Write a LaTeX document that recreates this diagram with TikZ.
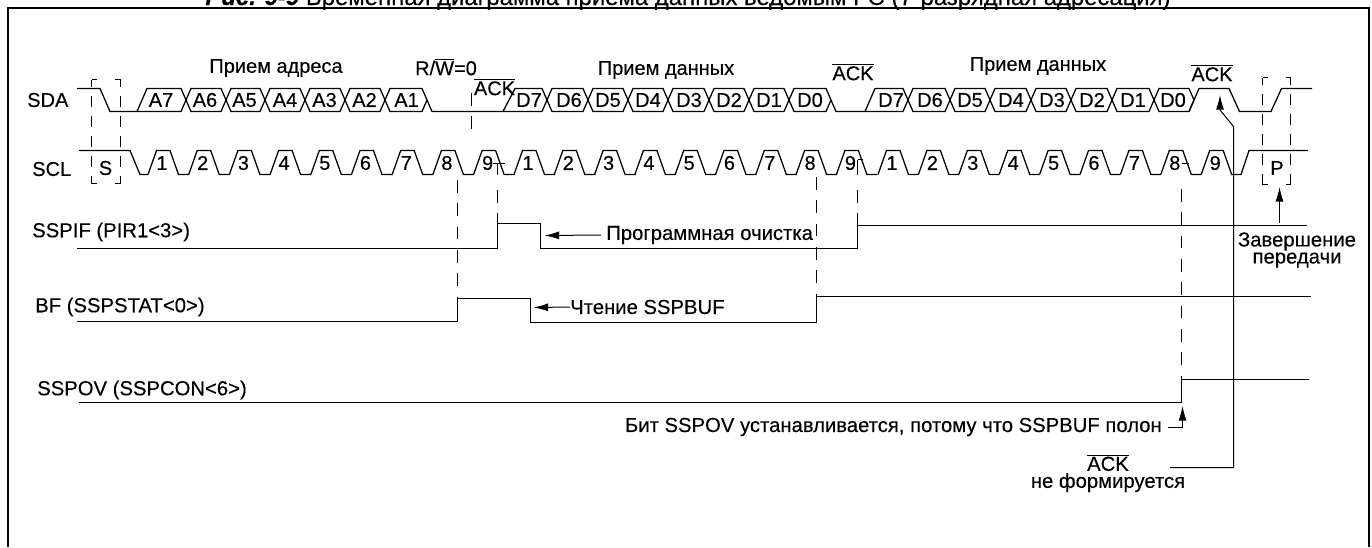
\documentclass[tikz,border=0pt]{standalone}
\usepackage{fontspec}
\setmainfont[FakeBold=0.25]{Liberation Sans}
\usetikzlibrary{arrows.meta}
\newcommand{\ovl}[1]{$\overline{\mbox{#1}}$}
\newcommand{\cutbox}[4]{
	\draw[cuth] (#1,#3) -- (#2,#3);
	\draw[cuth] (#1,#4) -- (#2,#4);
	\draw[cutv] (#1,#3) -- (#1,#4);
	\draw[cutv] (#2,#3) -- (#2,#4);
}
\tikzset{
	frame/.style={line width=1.8pt},
	sig/.style={line width=0.95pt, line join=miter},
	guide/.style={line width=0.75pt, dash pattern=on 9.5pt off 8pt},
	cuth/.style={line width=0.75pt, dash pattern=on 4pt off 13.75pt},
	cutv/.style={line width=0.75pt, dash pattern=on 8.25pt off 6.75pt, dash phase=2.5pt},
	flow/.style={-{Latex[length=11pt,width=6pt]}, line width=0.75pt},
	lab/.style={inner sep=0pt, font=\fontsize{15}{17}\selectfont},
	sname/.style={inner sep=0pt, anchor=west, font=\fontsize{15}{17}\selectfont},
	tname/.style={inner sep=0pt, anchor=west, font=\fontsize{15.2}{17}\selectfont},
	note/.style={inner sep=0pt, align=center, font=\fontsize{15.2}{12.75}\selectfont},
	bit/.style={inner sep=0pt, font=\fontsize{15}{16}\selectfont},
	num/.style={inner sep=0pt, font=\fontsize{15}{16}\selectfont}
}
\begin{document}
\begin{tikzpicture}[x=0.75pt, y=-0.75pt]
	\useasboundingbox (0,0) rectangle (1372,547);
	\node[inner sep=0pt, anchor=base, font=\fontsize{17.9}{20}\selectfont] (title) at (688,5) {\textbf{\textit{Рис. 9-9}} Временная диаграмма приема данных ведомым I²C (7-разрядная адресация)};
	\draw[frame] (8,547) -- (8,8) -- (1369,8) -- (1369,547);
	% SDA
	\node[sname] (sda) at (27,100) {SDA};
	\draw[sig] (77,88.5) -- (100,88.5) -- (110,111.5) -- (137,111.5) -- (147,88.5) -- (181,88.5) -- (186,100) -- (181,111.5) -- (137,111.5);
	\foreach \a/\b in {186/226,226/265,265/305,305/345,345/385,385/427,547/588,588/628,628/668,668/709,709/749,749/789,789/831,908/950,950/990,990/1031,1031/1071,1071/1112,1112/1154,1154/1194}
		\draw[sig] (\a,100) -- (\a+5,88.5) -- (\b-5,88.5) -- (\b,100) -- (\b-5,111.5) -- (\a+5,111.5) -- cycle;
	\draw[sig] (427,100) -- (432,111.5) -- (503,111.5) -- (515,88.5) -- (542,88.5) -- (547,100) -- (542,111.5) -- (503,111.5);
	\draw[sig] (831,100) -- (836,111.5) -- (865,111.5) -- (875,88.5) -- (903,88.5) -- (908,100) -- (903,111.5) -- (865,111.5);
	\draw[sig] (1189,111.5) -- (1199,88.5) -- (1229,88.5) -- (1239.5,111.5) -- (1271,111.5) -- (1281.5,88.5) -- (1312,88.5);
	\foreach \x/\t in {161/A7,205/A6,244.5/A5,285/A4,324.5/A3,364.5/A2,406.5/A1,529/D7,569/D6,608/D5,648/D4,689/D3,729/D2,769/D1,810/D0,891/D7,930/D6,970/D5,1011/D4,1052/D3,1092/D2,1133/D1,1173/D0}
		\node[bit] (b\t\x) at (\x,100) {\t};
	% SCL
	\node[sname] (scl) at (32,169) {SCL};
	\draw[sig] (79,150.5) -- (130,150.5) -- (140,174.5) -- (148,174.5);
	\foreach \r [count=\n] in {148,188.7,229.4,270.1,310.8,351.5,392.2,432.9,473.6}{
		\draw[sig] (\r,174.5) -- (\r+8.5,150.5) -- (\r+22,150.5) -- (\r+30.5,174.5) -- (\r+41,174.5);
		\node[num] (clka\n) at (\r+14,163) {\n};
	}
	\foreach \r [count=\n] in {514,554.3,594.6,634.9,675.2,715.5,755.8,796.1,836.4}{
		\draw[sig] (\r,174.5) -- (\r+8.5,150.5) -- (\r+22,150.5) -- (\r+30.5,174.5) -- (\r+41,174.5);
		\node[num] (clkb\n) at (\r+14,163) {\n};
	}
	\foreach \r [count=\n] in {878,918.4,958.8,999.2,1039.6,1080,1120.4,1160.8,1201.2}{
		\draw[sig] (\r,174.5) -- (\r+8.5,150.5) -- (\r+22,150.5) -- (\r+30.5,174.5) -- (\r+40.4,174.5);
		\node[num] (clkc\n) at (\r+14,163) {\n};
	}
	\draw[sig] (1241,174.5) -- (1249,150.5) -- (1308,150.5);
	\draw[sig] (493,163.5) -- (505,163.5) (497.5,163.5) -- (497.5,174.5);
	\draw[sig] (857.5,159.5) -- (863,159.5) (857.5,159.5) -- (857.5,174.5);
	\draw[sig] (1181.5,163.5) -- (1189,163.5);
	% start and stop
	\cutbox{91.5}{120.5}{79.5}{183.5}
	\cutbox{1262.5}{1290.5}{77.5}{184.5}
	\node[num] (start) at (105.5,168) {S};
	\node[num] (stop) at (1277,168) {P};
	% headings over SDA
	\node[lab] (addr) at (276,68) {Прием адреса};
	\node[lab] (rw) at (446,67) {R/\ovl{W}=0};
	\node[lab] (ack1) at (494.5,87) {\ovl{ACK}};
	\node[lab] (data1) at (666,70) {Прием данных};
	\node[lab] (ack2) at (853,72) {\ovl{ACK}};
	\node[lab] (data2) at (1038,66) {Прием данных};
	\node[lab] (ack3) at (1212,73) {\ovl{ACK}};
	% guides
	\draw[guide] (471.5,93) -- (471.5,134);
	\draw[guide] (457.5,180) -- (457.5,298);
	\draw[guide] (497.5,190) -- (497.5,223);
	\draw[guide] (816.5,177) -- (816.5,297);
	\draw[guide] (857.5,190) -- (857.5,225);
	\draw[guide] (1181.5,189) -- (1181.5,379);
	% flags
	\node[tname] (sspif) at (32,232) {SSPIF (PIR1<3>)};
	\draw[sig] (77,248.5) -- (497.5,248.5) -- (497.5,223.5) -- (540.5,223.5) -- (540.5,248.5) -- (857.5,248.5) -- (857.5,225.5) -- (1307,225.5);
	\node[tname] (bf) at (35,307) {BF (SSPSTAT<0>)};
	\draw[sig] (77,321.5) -- (457.5,321.5) -- (457.5,298.5) -- (530.5,298.5) -- (530.5,322.5) -- (816.5,322.5) -- (816.5,296.5) -- (1311,296.5);
	\node[tname] (sspov) at (37,390) {SSPOV (SSPCON<6>)};
	\draw[sig] (79,402.5) -- (1181.5,402.5) -- (1181.5,379.5) -- (1308.5,379.5);
	% notes
	\node[tname] (clear) at (606,235) {Программная очистка};
	\coordinate (clearend) at (544.5,235.5);
	\draw[flow] (clear.west) ++(-5,0) -- (clearend);
	\node[tname] (read) at (570,307) {Чтение SSPBUF};
	\coordinate (readend) at (533.5,307.5);
	\draw[flow] (read.west) -- (readend);
	\node[tname, anchor=east] (ovset) at (1162,427) {Бит SSPOV устанавливается, потому что SSPBUF полон};
	\coordinate (ovend) at (1182.5,406);
	\draw[flow] (1168,427.5) -- (1182.5,427.5) -- (ovend);
	\node[note] (nack) at (1108,473) {\ovl{ACK}\\не формируется};
	\coordinate (nackend) at (1220,95);
	\draw[flow] (1170,467.5) -- (1233.5,467.5) -- (1233.5,126.5) -- (1220,110) -- (nackend);
	\node[note] (endtr) at (1297,250) {Завершение\\передачи};
	\coordinate (endarr) at (1279.5,187);
	\draw[flow] (1279.5,223) -- (endarr);
\end{tikzpicture}
\end{document}
